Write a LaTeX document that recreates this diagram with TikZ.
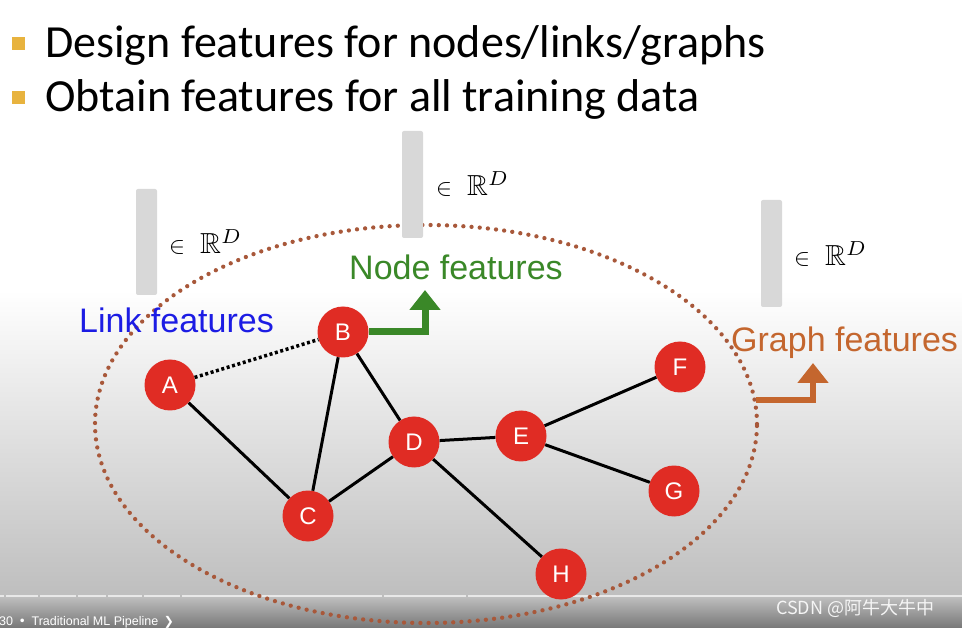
\documentclass[tikz,border=0pt]{standalone}
\usepackage{fontspec}
\usepackage{amssymb}
\usetikzlibrary{arrows.meta}
\newfontfamily\titlefont{Carlito}
\newfontfamily\arialfont{Liberation Sans}
\newfontfamily\cjkfont{Noto Sans CJK SC}
\newfontfamily\symfont{DejaVu Sans}
\definecolor{bulletc}{RGB}{232,179,62}
\definecolor{nodered}{RGB}{224,44,36}
\definecolor{dotc}{RGB}{168,88,58}
\definecolor{barc}{RGB}{216,216,216}
\definecolor{linkblue}{RGB}{28,28,228}
\definecolor{nodegreen}{RGB}{58,136,40}
\definecolor{graphorange}{RGB}{196,102,46}
\definecolor{lowgray}{RGB}{190,190,190}
\definecolor{darkgray2}{RGB}{118,118,118}
\newcommand{\rdlabel}{\scalebox{2.4}{$\in$}\hspace{15pt}\scalebox{2.9}{$\mathbb{R}^{D}$}}
\tikzset{
  gnode/.style={circle,fill=nodered,minimum size=51pt,inner sep=0pt,text=white,font=\arialfont\fontsize{24}{24}\selectfont},
  gedge/.style={line width=3pt,black},
  fbar/.style={fill=barc,rounded corners=2pt},
  rlabel/.style={anchor=base west,inner sep=0pt},
  title/.style={anchor=base west,inner sep=0pt,font=\titlefont\fontsize{46}{50}\selectfont},
  flabel/.style={anchor=base west,inner sep=0pt,font=\arialfont\fontsize{34}{38}\selectfont},
  bigarrow/.style={line width=7pt,-{Triangle[width=30pt,length=20pt]}}
}
\begin{document}
\begin{tikzpicture}[x=1pt,y=-1pt]
\useasboundingbox (0,0) rectangle (962,628);
% background
\fill[white] (0,0) rectangle (962,628);
\shade[top color=white,bottom color=lowgray] (0,290) rectangle (962,597);
\shade[top color=lowgray,bottom color=darkgray2] (0,597) rectangle (962,628.5);
\foreach \a/\b in {0/4,6/38,40/76,78/106,108/142,144/180,182/382,384/466,468/962}
  \draw[line width=2.5pt,white!82!gray] (\a,596) -- (\b,596);
% title
\fill[bulletc] (12,37) rectangle (25,50);
\fill[bulletc] (12,91) rectangle (25,104);
\node[title] (t1) at (45,58) {Design features for nodes/links/graphs};
\node[title] (t2) at (45,112) {Obtain features for all training data};
% ellipse
\draw[dotc,line width=4.3pt,line cap=round,dash pattern=on 0pt off 8.2pt] (426,424) ellipse [x radius=331pt,y radius=199pt];
% feature bars
\fill[fbar] (136,189) rectangle (157,295);
\fill[fbar] (402,131) rectangle (423,238);
\fill[fbar] (761,200) rectangle (782,307);
\node[rlabel] (r1) at (169,254) {\rdlabel};
\node[rlabel] (r2) at (436,196) {\rdlabel};
\node[rlabel] (r3) at (794,266) {\rdlabel};
% graph nodes
\node[gnode] (A) at (170,385) {A};
\node[gnode] (B) at (343,332) {B};
\node[gnode] (C) at (308,516) {C};
\node[gnode] (D) at (414,442) {D};
\node[gnode] (E) at (521,436) {E};
\node[gnode] (F) at (680,367) {F};
\node[gnode] (G) at (674,491) {G};
\node[gnode] (H) at (561,574) {H};
\draw[line width=3.5pt,dash pattern=on 3pt off 2.6pt] (A) -- (B);
\foreach \u/\v in {A/C,B/C,B/D,C/D,D/E,D/H,E/F,E/G}
  \draw[gedge] (\u) -- (\v);
% labels
\node[flabel,text=linkblue] (lf) at (79,333) {Link features};
\node[flabel,text=nodegreen] (nf) at (349,280) {Node features};
\node[flabel,text=graphorange] (gf) at (731,352) {Graph features};
% arrows
\coordinate (ntip) at (425,290);
\draw[bigarrow,nodegreen] (B.east) -| (ntip);
\coordinate (gstart) at (756,400);
\coordinate (gtip) at (813,363);
\draw[bigarrow,graphorange,line width=6.5pt] (gstart) -| (gtip);
% bottom overlay texts
\node[anchor=base west,inner sep=0pt,text=white,font=\arialfont\fontsize{12.5}{14}\selectfont] (pl) at (-1,625) {30 \,{\symfont•}\, Traditional ML Pipeline \,{\symfont\fontsize{12}{14}\selectfont ❯}};
\node[anchor=base west,inner sep=0pt,text=white!92!gray,font=\cjkfont\fontsize{18}{20}\selectfont] (wm) at (776,614) {CSDN @阿牛大牛中};
\end{tikzpicture}
\end{document}
